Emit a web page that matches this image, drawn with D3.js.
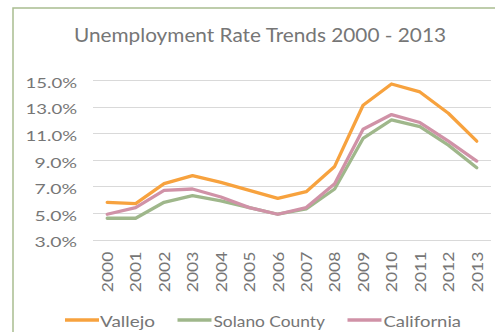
<!DOCTYPE html>
<html>
<head>
<meta charset="utf-8">
<script src="https://cdn.jsdelivr.net/npm/d3@7"></script>
<style>
  html, body { margin: 0; padding: 0; background: #fff; }
  svg { display: block; font-family: Lato, "Noto Sans", sans-serif; }
</style>
</head>
<body>
<svg id="chart" width="495" height="332"></svg>
<script>
// Annual unemployment rate (%), 2000-2013
const years = ["2000","2001","2002","2003","2004","2005","2006","2007","2008","2009","2010","2011","2012","2013"];
const vallejo    = [5.8, 5.7, 7.2, 7.8, 7.3, 6.7, 6.1, 6.6, 8.5, 13.1, 14.7, 14.1, 12.5, 10.4];
const solano     = [4.6, 4.6, 5.8, 6.3, 5.9, 5.4, 4.9, 5.3, 6.8, 10.6, 12.0, 11.5, 10.1, 8.4];
const california = [4.9, 5.4, 6.7, 6.8, 6.2, 5.4, 4.9, 5.4, 7.2, 11.3, 12.4, 11.8, 10.4, 8.9];
const yTicks = [3, 5, 7, 9, 11, 13, 15];
const seriesNames = ["Vallejo", "Solano County", "California"];
const seriesColors = ["#f7a23e", "#9fb78b", "#d092a7"];
const titleText = "Unemployment Rate Trends 2000 - 2013";

const textColor = "#767676";
const fontStack = "Lato, 'Noto Sans', sans-serif";

const series = [vallejo, solano, california].map((vals, i) => ({
  name: seriesNames[i], color: seriesColors[i], values: vals
}));

const svg = d3.select("#chart");

// chart frame (extends past the right and bottom edges)
svg.append("rect")
  .attr("x", 13).attr("y", 8)
  .attr("width", 520).attr("height", 360)
  .attr("fill", "none")
  .attr("stroke", "#a9bd90")
  .attr("stroke-width", 1.5);

// title
svg.append("text")
  .attr("x", 74).attr("y", 41.7)
  .attr("font-size", 18.5)
  .attr("fill", textColor)
  .attr("textLength", 372)
  .attr("lengthAdjust", "spacingAndGlyphs")
  .text(titleText);

const x = d3.scaleBand().domain(years).range([93, 491]).padding(0);
const y = d3.scaleLinear().domain([3, 15]).range([239.5, 80]);

// horizontal gridlines
svg.append("g")
  .selectAll("line")
  .data(yTicks)
  .join("line")
  .attr("x1", 93).attr("x2", 491)
  .attr("y1", d => Math.round(y(d)) + 0.5)
  .attr("y2", d => Math.round(y(d)) + 0.5)
  .attr("stroke", "#d9d9d9")
  .attr("stroke-width", 1.2);

// y-axis labels
const yAxis = d3.axisLeft(y).tickValues(yTicks).tickSize(0).tickPadding(0)
  .tickFormat(d => d3.format(".1f")(d) + "%");
const yg = svg.append("g").attr("transform", "translate(77,0)").call(yAxis);
yg.select(".domain").remove();
yg.selectAll("text")
  .attr("font-family", fontStack)
  .attr("font-size", 14)
  .attr("fill", textColor)
  .attr("dy", null)
  .attr("y", 7.3)
  .attr("textLength", d => (d >= 10 ? 51.5 : 42.5))
  .attr("lengthAdjust", "spacingAndGlyphs");

// x-axis labels, rotated
const xAxis = d3.axisBottom(x).tickSize(0).tickPadding(0);
const xg = svg.append("g").attr("transform", "translate(0,251.7)").call(xAxis);
xg.select(".domain").remove();
xg.selectAll("text")
  .attr("font-family", fontStack)
  .attr("font-size", 16)
  .attr("fill", textColor)
  .attr("text-anchor", "end")
  .attr("y", 0).attr("x", 0)
  .attr("dy", "0.36em")
  .attr("transform", "rotate(-90)")
  .attr("textLength", 40.5)
  .attr("lengthAdjust", "spacingAndGlyphs");

// series lines
const line = d3.line()
  .x((d, i) => x(years[i]) + x.bandwidth() / 2)
  .y(d => y(d));

svg.append("g")
  .selectAll("path")
  .data(series)
  .join("path")
  .attr("d", d => line(d.values))
  .attr("fill", "none")
  .attr("stroke", d => d.color)
  .attr("stroke-width", 3.3)
  .attr("stroke-linejoin", "round")
  .attr("stroke-linecap", "round");

// legend
const legendItems = [
  { x1: 65, x2: 99, tx: 100, tw: 55 },
  { x1: 177.5, x2: 211.5, tx: 213.5, tw: 111.5 },
  { x1: 347.5, x2: 381.5, tx: 383.5, tw: 77.5 }
];
const lg = svg.append("g");
series.forEach((s, i) => {
  const it = legendItems[i];
  lg.append("line")
    .attr("x1", it.x1).attr("x2", it.x2)
    .attr("y1", 320).attr("y2", 320)
    .attr("stroke", s.color)
    .attr("stroke-width", 3.3);
  lg.append("text")
    .attr("x", it.tx).attr("y", 326.7)
    .attr("font-size", 16)
    .attr("fill", textColor)
    .attr("textLength", it.tw)
    .attr("lengthAdjust", "spacingAndGlyphs")
    .text(s.name);
});
</script>
</body>
</html>
